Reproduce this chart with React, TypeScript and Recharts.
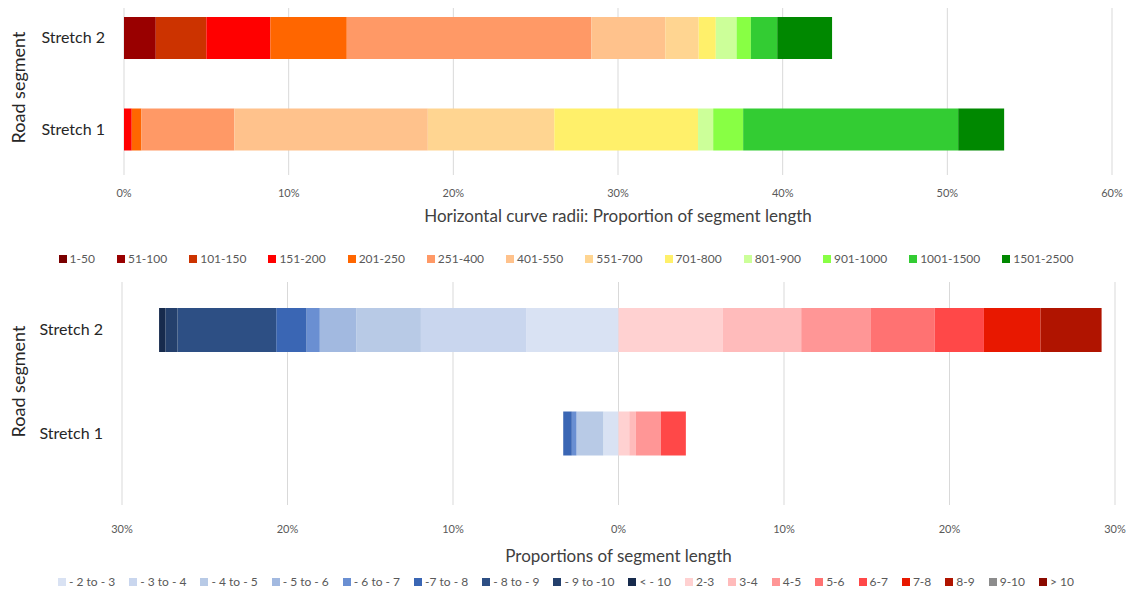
import React from 'react';
import { BarChart, Bar, XAxis, YAxis, CartesianGrid, Legend } from 'recharts';

const FONT = 'Lato, "Open Sans", sans-serif';

// categories on the vertical axis (top to bottom)
const segments = ['Stretch 2', 'Stretch 1'];

// top panel: horizontal curve radii (m), % of segment length
const radiusBins = ['1-50', '51-100', '101-150', '151-200', '201-250', '251-400', '401-550', '551-700', '701-800', '801-900', '901-1000', '1001-1500', '1501-2500'];
const radiusColors = ['#7a0000', '#990000', '#cc3300', '#ff0000', '#ff6600', '#ff9966', '#ffc28c', '#ffd591', '#fff06a', '#ccff99', '#88ff44', '#33cc33', '#008800'];
const radiusStretch2 = [0, 1.93, 3.07, 3.89, 4.64, 14.85, 4.49, 2.03, 1.04, 1.26, 0.87, 1.6, 3.33];
const radiusStretch1 = [0, 0, 0, 0.47, 0.59, 5.64, 11.75, 7.68, 8.73, 0.92, 1.82, 13.06, 2.79];
const radiusTicks = [0, 10, 20, 30, 40, 50, 60];

// bottom panel: gradient classes (%), negative = downhill side
const gradientBins = ['- 2 to - 3', '- 3 to - 4', '- 4 to - 5', '- 5 to - 6', '- 6 to - 7', '-7 to - 8', '- 8 to - 9', '- 9 to -10', '< - 10', '2-3', '3-4', '4-5', '5-6', '6-7', '7-8', '8-9', '9-10', '> 10'];
const gradientColors = ['#d9e2f3', '#c9d6ee', '#b8cae6', '#a2b9e0', '#6a8fd2', '#3a66b4', '#2d4f84', '#24406c', '#172b4d', '#ffd1d1', '#ffbbbb', '#ff9696', '#ff7272', '#ff4848', '#e81800', '#b01400', '#8c8c8c', '#8b0a00'];
const gradientStretch2 = [-5.56, -6.38, -3.9, -2.21, -0.8, -1.83, -5.97, -0.73, -0.38, 6.31, 4.73, 4.18, 3.89, 2.97, 3.42, 3.69, 0, 0];
const gradientStretch1 = [-0.92, 0, -1.62, 0, -0.28, -0.52, 0, 0, 0, 0.65, 0.4, 1.51, 0, 1.51, 0, 0, 0, 0];
const gradientTicks = [-30, -20, -10, 0, 10, 20, 30];

const buildRows = (values: number[][]) =>
  segments.map((segment, s) => {
    const row: any = { segment };
    values[s].forEach((v, i) => {
      row['k' + i] = v;
    });
    return row;
  });

const radiusRows = buildRows([radiusStretch2, radiusStretch1]);
const gradientRows = buildRows([gradientStretch2, gradientStretch1]);

const legendOrder = (item: any) => Number(String(item.dataKey).slice(1));

const renderLegend = (gap: number) => (props: any) => (
  <ul
    style={{
      display: 'flex',
      justifyContent: 'center',
      margin: 0,
      padding: 0,
      listStyle: 'none',
      gap,
      fontFamily: FONT,
      fontSize: 12,
      color: '#595959',
      whiteSpace: 'nowrap',
      lineHeight: '18px',
    }}
  >
    {props.payload.map((item: any) => (
      <li key={item.value} style={{ display: 'flex', alignItems: 'center' }}>
        <span style={{ display: 'inline-block', width: 8, height: 8, background: item.color, marginRight: 3 }} />
        {item.value}
      </li>
    ))}
  </ul>
);

const SideTitle = (props: any) => {
  const { viewBox, text, shift } = props;
  const x = viewBox.x + 18;
  const y = viewBox.y + viewBox.height / 2 + (shift || 0);
  return (
    <text
      x={x}
      y={y}
      transform={`rotate(-90 ${x} ${y})`}
      textAnchor="middle"
      dominantBaseline="central"
      fontSize={18}
      fill="#262626"
      fontFamily={FONT}
    >
      {text}
    </text>
  );
};

const tickStyle = { fontSize: 11, fill: '#595959', fontFamily: FONT };
const catStyle = { fontSize: 16, fill: '#262626', fontFamily: FONT };

const RadiusChart = () => (
  <BarChart
    width={1132}
    height={275}
    layout="vertical"
    data={radiusRows}
    margin={{ top: 8, right: 20, bottom: 50, left: 0 }}
    barCategoryGap={0}
    style={{ fontFamily: FONT }}
  >
    <CartesianGrid horizontal={false} stroke="#d9d9d9" />
    <XAxis
      type="number"
      domain={[0, 60]}
      ticks={radiusTicks}
      tickFormatter={(v: number) => v + '%'}
      axisLine={false}
      tickLine={false}
      tickMargin={8}
      height={50}
      tick={tickStyle}
      label={{
        value: 'Horizontal curve radii: Proportion of segment length',
        position: 'insideBottom',
        offset: 3,
        fill: '#404040',
        fontSize: 17,
        fontFamily: FONT,
      }}
    />
    <YAxis
      type="category"
      dataKey="segment"
      width={124}
      axisLine={false}
      tickLine={false}
      tickMargin={13}
      tick={catStyle}
      padding={{ top: -16, bottom: 0 }}
      label={(p: any) => <SideTitle {...p} text="Road segment" shift={-4} />}
    />
    <Legend
      layout="horizontal"
      verticalAlign="middle"
      align="center"
      itemSorter={legendOrder}
      wrapperStyle={{ top: 250, left: 0, width: 1132 }}
      content={renderLegend(22)}
    />
    {radiusBins.map((bin, i) => (
      <Bar key={bin} dataKey={'k' + i} name={bin} stackId="r" fill={radiusColors[i]} barSize={42} isAnimationActive={false} />
    ))}
  </BarChart>
);

const GradientChart = () => (
  <BarChart
    width={1132}
    height={318}
    layout="vertical"
    data={gradientRows}
    stackOffset="sign"
    margin={{ top: 7, right: 17, bottom: 28, left: 0 }}
    style={{ fontFamily: FONT }}
  >
    <CartesianGrid horizontal={false} stroke="#d9d9d9" />
    <XAxis
      type="number"
      domain={[-30, 30]}
      ticks={gradientTicks}
      tickFormatter={(v: number) => Math.abs(v) + '%'}
      axisLine={false}
      tickLine={false}
      tickMargin={14}
      height={60}
      tick={tickStyle}
      label={{
        value: 'Proportions of segment length',
        position: 'insideBottom',
        offset: 3,
        fill: '#404040',
        fontSize: 17,
        fontFamily: FONT,
      }}
    />
    <YAxis
      type="category"
      dataKey="segment"
      width={122}
      axisLine={false}
      tickLine={false}
      tickMargin={13}
      tick={catStyle}
      padding={{ top: -4, bottom: 20 }}
      label={(p: any) => <SideTitle {...p} text="Road segment" shift={-12} />}
    />
    <Legend
      layout="horizontal"
      verticalAlign="middle"
      align="center"
      itemSorter={legendOrder}
      wrapperStyle={{ top: 298, left: 0, width: 1132 }}
      content={renderLegend(14)}
    />
    {gradientBins.map((bin, i) => (
      <Bar key={bin} dataKey={'k' + i} name={bin} stackId="g" fill={gradientColors[i]} barSize={44} isAnimationActive={false} />
    ))}
  </BarChart>
);

export default function App() {
  return (
    <div style={{ width: 1132, height: 593, background: '#fff' }}>
      <style>{'body{margin:0}'}</style>
      <RadiusChart />
      <GradientChart />
    </div>
  );
}
